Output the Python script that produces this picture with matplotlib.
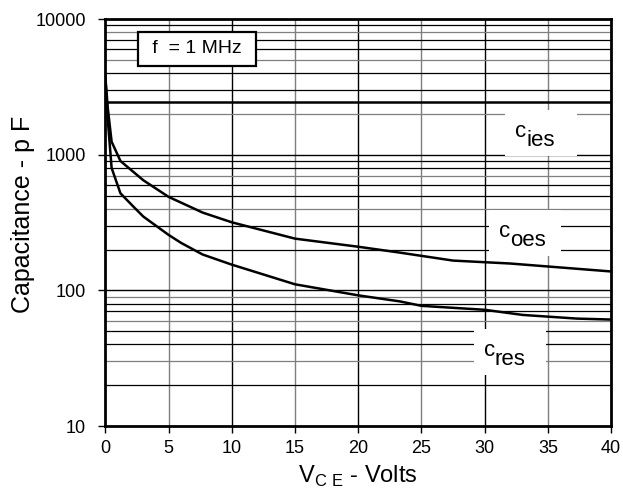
"""
Capacitance vs collector-emitter voltage, f = 1 MHz.
"""

import matplotlib
matplotlib.use('Agg')
import matplotlib.pyplot as plt
from matplotlib.patches import Rectangle
from matplotlib.transforms import ScaledTranslation
from matplotlib.ticker import FixedLocator, NullLocator

plt.rcParams['font.family'] = ['Liberation Sans', 'DejaVu Sans']
plt.rcParams['mathtext.fontset'] = 'custom'
plt.rcParams['mathtext.rm'] = 'Liberation Sans'

# Curves
VCE_IES = [0, 40]
C_IES = [2450, 2450]

VCE_OES = [0, 0.2, 0.5, 1.2, 3, 5, 7.7, 10, 15, 20, 23.3, 27.5, 32, 40]
C_OES = [3800, 2200, 1250, 900, 650, 490, 375, 318, 241, 210, 190, 166,
         158, 138]

VCE_RES = [0, 0.2, 0.5, 1.2, 2.3, 3, 5, 6, 7.7, 10, 15, 20, 23.3, 25, 30,
           33, 37.3, 40]
C_RES = [3800, 1800, 800, 520, 408, 351, 257, 224, 184, 155, 111, 92, 83,
         77, 72, 66, 62, 61]

# curve labels: anchor between 'c' and subscript, on the subscript baseline
LABEL_X = [33.3, 32.0, 30.8]
LABEL_Y = [1165, 211, 28.1]
LABEL_SUB = ['ies', 'oes', 'res']
X_TICKS = [0, 5, 10, 15, 20, 25, 30, 35, 40]
Y_TICKS = [10, 100, 1000, 10000]


def label_curve(fig, ax, x, y, sub, size=16):
    # white patch (inches, relative to the anchor) hiding the grid
    trans = fig.dpi_scale_trans + ScaledTranslation(x, y, ax.transData)
    ax.add_patch(Rectangle((-0.21, -0.10), 0.72, 0.46, transform=trans,
                           facecolor='white', edgecolor='none', zorder=4))
    ax.text(x, y, sub, fontsize=size, ha='left', va='baseline', zorder=5)
    ax.annotate('c', xy=(x, y), xytext=(0, 6.5), textcoords='offset points',
                fontsize=size, ha='right', va='baseline', zorder=5)


def main():
    fig = plt.figure(figsize=(6.23, 4.92), dpi=100)
    ax = fig.add_axes([0.169, 0.134, 0.812, 0.827])
    ax.set_yscale('log')
    ax.set_xlim(0, 40)
    ax.set_ylim(10, 10000)

    # grid lines, drawn by hand so the colours can alternate
    for i, x in enumerate(X_TICKS[1:-1]):
        col = 'black' if i % 2 else '#7f7f7f'
        ax.axvline(x, color=col, lw=1.0, zorder=1)
    minors = [m * 10 ** d for d in (1, 2, 3) for m in range(2, 10)]
    for j, y in enumerate(minors):
        col = '#7f7f7f' if j % 3 == 1 else 'black'
        ax.axhline(y, color=col, lw=0.9, zorder=1)
    for y in Y_TICKS[1:-1]:
        ax.axhline(y, color='black', lw=1.0, zorder=1)

    ax.plot(VCE_IES, C_IES, color='black', lw=1.8, zorder=3)
    ax.plot(VCE_OES, C_OES, color='black', lw=1.8, zorder=3)
    ax.plot(VCE_RES, C_RES, color='black', lw=1.8, zorder=3)

    for x, y, sub in zip(LABEL_X, LABEL_Y, LABEL_SUB):
        label_curve(fig, ax, x, y, sub)

    ax.text(7.23, 6030, ' f  = 1 MHz ', fontsize=14, ha='center',
            va='center', zorder=4,
            bbox=dict(facecolor='white', edgecolor='black', lw=1.6,
                      boxstyle='square,pad=0.45'))

    ax.xaxis.set_major_locator(FixedLocator(X_TICKS))
    ax.yaxis.set_major_locator(FixedLocator(Y_TICKS))
    ax.yaxis.set_minor_locator(NullLocator())
    ax.set_yticklabels([str(v) for v in Y_TICKS])
    ax.tick_params(direction='out', length=5, width=1, labelsize=13,
                   color='black')
    ax.tick_params(axis='x', pad=5)
    ax.tick_params(axis='y', pad=9)

    for sp in ax.spines.values():
        sp.set_linewidth(2)

    ax.set_xlabel(r'V$_{\mathrm{C\ E}}$ - Volts', fontsize=17, labelpad=5)
    ax.set_ylabel('Capacitance - p F', fontsize=18, labelpad=0, y=0.52)

    fig.savefig('out.png', dpi=100)
    plt.close()


if __name__ == '__main__':
    main()
